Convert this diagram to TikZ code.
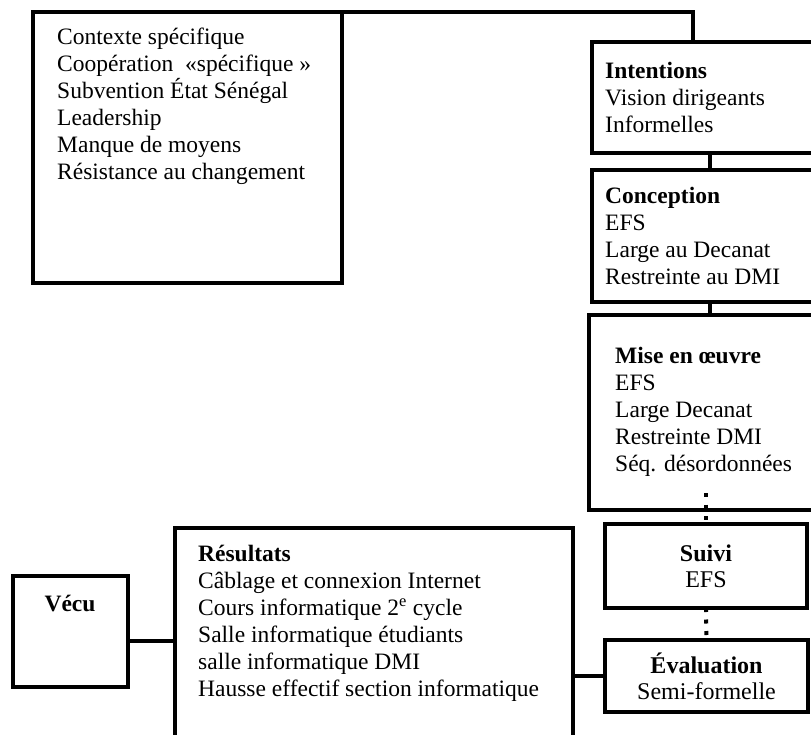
\documentclass[tikz,border=0pt]{standalone}
\usepackage{fontspec}
\setmainfont{Liberation Serif}

\begin{document}
\begin{tikzpicture}[x=1pt,y=-1pt,
   boite/.style={draw,line width=4.5pt,inner sep=0pt,outer sep=0pt,anchor=north west},
   texte/.style={align=left,inner sep=0pt,anchor=north west,font=\fontsize{23.5}{27}\selectfont},
   centre/.style={align=center,font=\fontsize{24}{26}\selectfont},
   lien/.style={line width=4pt},
   pointille/.style={line width=4pt,dash pattern=on 4pt off 7.5pt}]
   \path[use as bounding box,fill=white] (0,0) rectangle (811,734);

   \node[boite,minimum width=309pt,minimum height=271pt] (ctx) at (33,12) {};
   \node[boite,minimum width=260pt,minimum height=111pt] (int) at (592,42) {};
   \node[boite,minimum width=260pt,minimum height=132pt] (conc) at (592,170) {};
   \node[boite,minimum width=260pt,minimum height=195pt] (mise) at (589,315) {};
   \node[boite,centre,minimum width=202pt,minimum height=84pt] (suivi) at (605,524) {\textbf{Suivi}\\EFS};
   \node[boite,centre,minimum width=203pt,minimum height=72pt] (eval) at (605,640) {\textbf{Évaluation}\\Semi-formelle};
   \node[boite,minimum width=398pt,minimum height=250pt] (res) at (175,528) {};
   \node[boite,minimum width=115pt,minimum height=111pt] (vecu) at (13,576) {};

   \node[texte] (ctx-t) at (57,28) {Contexte spécifique\\Coopération~~«spécifique »\\Subvention État Sénégal\\Leadership\\Manque de moyens\\Résistance au changement};
   \node[texte] (int-t) at (605,62) {\textbf{Intentions}\\Vision dirigeants\\Informelles};
   \node[texte] (conc-t) at (605,187) {\textbf{Conception}\\EFS\\Large au Decanat\\Restreinte au DMI};
   \node[texte] (mise-t) at (615,347) {\textbf{Mise en œuvre}\\EFS\\Large Decanat\\Restreinte DMI\\Séq. désordonnées};
   \node[texte] (res-t) at (198,545) {\textbf{Résultats}\\Câblage et connexion Internet\\Cours informatique 2\textsuperscript{e} cycle\\Salle informatique étudiants\\salle informatique DMI\\Hausse effectif section informatique};
   \node[texte,anchor=center] (vecu-t) at (70,604) {\textbf{Vécu}};

   \coordinate (coude) at (693,12);
   \draw[lien] (ctx.north east) -- (coude) -- (coude |- int.north);
   \draw[lien] ([xshift=118pt]int.south west) -- ([xshift=118pt]conc.north west);
   \draw[lien] ([xshift=118pt]conc.south west) -- ([xshift=121pt]mise.north west);
   \draw[pointille] ([yshift=17pt]mise.south -| suivi.north) -- (suivi.north);
   \draw[pointille] (suivi.south) -- (eval.north);
   \draw[lien] ([yshift=-9pt]vecu.east) -- ([yshift=-9pt]vecu.east -| res.west);
   \draw[lien] (eval.west) -- (eval.west -| res.east);
\end{tikzpicture}
\end{document}
